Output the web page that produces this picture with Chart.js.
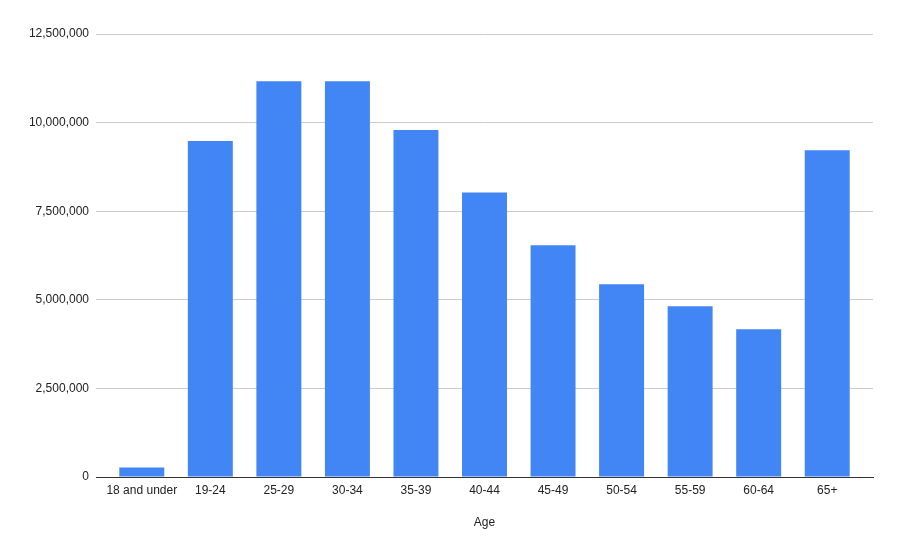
<!DOCTYPE html>
<html>
<head>
<meta charset="utf-8">
<script src="https://cdn.jsdelivr.net/npm/chart.js@4/dist/chart.umd.min.js"></script>
<style>
html,body{margin:0;padding:0;background:#fff;}
#wrap{width:901px;height:557px;position:relative;}
</style>
</head>
<body>
<div id="wrap"><canvas id="c" width="901" height="557"></canvas></div>
<script>
const categories = ["18 and under","19-24","25-29","30-34","35-39","40-44","45-49","50-54","55-59","60-64","65+"];
const population = [270000, 9480000, 11170000, 11170000, 9790000, 8030000, 6540000, 5440000, 4820000, 4170000, 9220000];
const yTicks = [0, 2500000, 5000000, 7500000, 10000000, 12500000];
const xTitle = "Age";

const FONT = "'Liberation Sans', Arial, sans-serif";
const INSET = 0.168; // extra category units of empty space at each end
new Chart(document.getElementById('c'), {
  type: 'bar',
  data: {
    labels: categories,
    datasets: [{
      data: population,
      backgroundColor: '#4285F4',
      borderWidth: 0,
      barPercentage: 0.656,
      categoryPercentage: 1.0
    }]
  },
  options: {
    responsive: false,
    animation: false,
    layout: { padding: { left: 0, right: 28, top: 34, bottom: 20 } },
    plugins: { legend: { display: false }, tooltip: { enabled: false } },
    scales: {
      x: {
        grid: { display: false, drawTicks: false },
        border: { display: true, color: '#333333', width: 1 },
        ticks: { color: '#222', font: { family: FONT, size: 12 }, padding: 6, maxRotation: 0, autoSkip: false },
        title: { display: true, text: xTitle, color: '#222', font: { family: FONT, size: 12 }, padding: { top: 13, bottom: 7 } },
        afterFit: (s) => { s.height = 60; },
        afterUpdate: (s) => { s._startValue -= INSET; s._valueRange += 2 * INSET; }
      },
      y: {
        min: 0, max: 12500000,
        afterBuildTicks: (s) => { s.ticks = yTicks.map(v => ({ value: v })); },
        grid: { color: '#cccccc', drawTicks: false, lineWidth: 1 },
        border: { display: false },
        ticks: {
          color: '#222', font: { family: FONT, size: 12 }, padding: 7,
          callback: (v) => Number(v).toLocaleString('en-US')
        },
        afterFit: (s) => { s.width = 96; }
      }
    }
  }
});
</script>
</body>
</html>
